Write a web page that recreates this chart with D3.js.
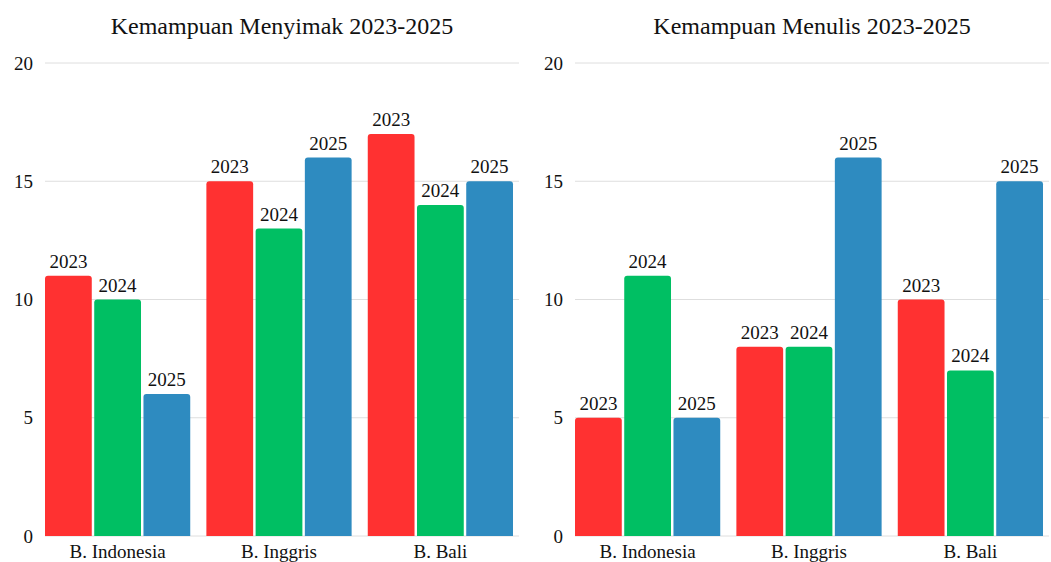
<!DOCTYPE html>
<html>
<head>
<meta charset="utf-8">
<script src="https://cdn.jsdelivr.net/npm/d3@7"></script>
<style>
  body { margin: 0; background: #fff; }
  text { font-family: "Liberation Serif", "Times New Roman", serif; fill: #111; }
</style>
</head>
<body>
<div id="chart"></div>
<script>
// data
const languages = ["B. Indonesia", "B. Inggris", "B. Bali"];
const years = ["2023", "2024", "2025"];
const menyimak = [[11, 10, 6], [15, 13, 16], [17, 14, 15]];
const menulis = [[5, 11, 5], [8, 8, 16], [10, 7, 15]];
const yTicks = [0, 5, 10, 15, 20];
const titles = ["Kemampuan Menyimak 2023-2025", "Kemampuan Menulis 2023-2025"];

const colors = d3.scaleOrdinal().domain(years).range(["#ff3131", "#00bf63", "#2e8bc0"]);

const svg = d3.select("#chart")
  .append("svg")
  .attr("width", 1051)
  .attr("height", 562);

const height = 562;
const y = d3.scaleLinear().domain([0, 20]).range([536, 63]);

// top-rounded bar path
function barPath(x, yTop, w, h, r) {
  r = Math.min(r, h, w / 2);
  return `M${x},${yTop + h}V${yTop + r}Q${x},${yTop} ${x + r},${yTop}` +
    `H${x + w - r}Q${x + w},${yTop} ${x + w},${yTop + r}V${yTop + h}Z`;
}

function drawPanel(values, title, left, right, barRight) {
  const g = svg.append("g");

  const x0 = d3.scaleBand().domain(languages).range([left, barRight]).paddingInner(0.1).paddingOuter(0);
  const x1 = d3.scaleBand().domain(years).range([0, x0.bandwidth()]).paddingInner(0.05);

  // grid lines
  g.selectAll(".grid")
    .data(yTicks)
    .enter().append("line")
    .attr("x1", left)
    .attr("x2", right)
    .attr("y1", d => y(d))
    .attr("y2", d => y(d))
    .attr("stroke", "#dedede")
    .attr("stroke-width", 1);

  // y tick labels
  g.selectAll(".ytick")
    .data(yTicks)
    .enter().append("text")
    .attr("x", left - 12)
    .attr("y", d => y(d))
    .attr("dy", "0.35em")
    .attr("text-anchor", "end")
    .style("font-size", "19px")
    .text(d => d);

  languages.forEach((lang, i) => {
    const grp = g.append("g").attr("transform", `translate(${x0(lang)},0)`);
    years.forEach((yr, j) => {
      const v = values[i][j];
      grp.append("path")
        .attr("d", barPath(x1(yr), y(v), x1.bandwidth(), y(0) - y(v), 3))
        .attr("fill", colors(yr));
      grp.append("text")
        .attr("x", x1(yr) + x1.bandwidth() / 2)
        .attr("y", y(v) - 8)
        .attr("text-anchor", "middle")
        .style("font-size", "19px")
        .text(yr);
    });
    g.append("text")
      .attr("x", x0(lang) + x0.bandwidth() / 2)
      .attr("y", height - 4)
      .attr("text-anchor", "middle")
      .style("font-size", "19px")
      .text(lang);
  });

  // title
  g.append("text")
    .attr("x", (left + right) / 2)
    .attr("y", 34)
    .attr("text-anchor", "middle")
    .style("font-size", "24px")
    .text(title);
}

drawPanel(menyimak, titles[0], 45, 519, 513);
drawPanel(menulis, titles[1], 575, 1049, 1043);
</script>
</body>
</html>
